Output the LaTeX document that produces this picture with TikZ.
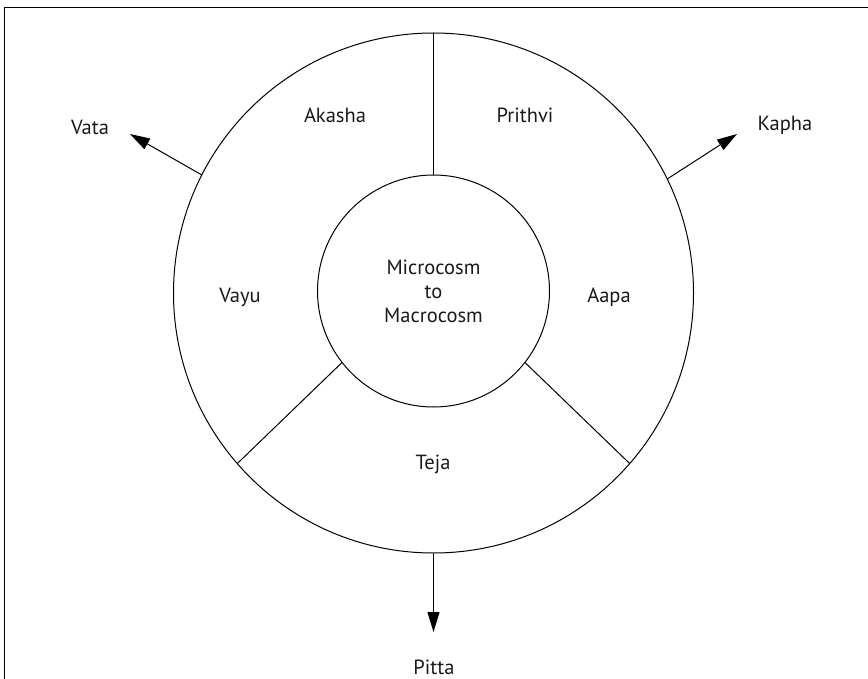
\documentclass[tikz,border=0pt]{standalone}
\usepackage{fontspec}
\setmainfont{PT Sans}
\usetikzlibrary{arrows.meta}
\begin{document}
\begin{tikzpicture}[x=1pt,y=-1pt,
  ring/.style={circle,draw,line width=1pt,inner sep=0pt,outer sep=0pt},
  label/.style={font=\fontsize{20.5}{24}\selectfont,inner sep=0pt,align=center,text=black!90},
  divider/.style={line width=1pt},
  flow/.style={line width=1pt,-{Triangle[length=20pt,width=12pt]}}]
  \useasboundingbox (0,0) rectangle (868,679);
  % frame (only its top and left sides fall inside the page)
  \draw[line width=1.5pt] (4.5,679) -- (4.5,7.5) -- (868,7.5);

  % rings
  \node[ring,minimum size=520pt] (outer) at (433.5,293) {};
  \node[ring,minimum size=232pt,label] (inner) at (433.5,291) {Microcosm\\to\\Macrocosm};

  % sector dividers
  \draw[divider] (inner.90) -- (outer.90);
  \draw[divider] (inner.-142) -- (outer.-139);
  \draw[divider] (inner.-38) -- (outer.-41);

  % element names
  \node[label] (akasha) at (335,115) {Akasha};
  \node[label] (prithvi) at (525,115) {Prithvi};
  \node[label] (vayu) at (240,297) {Vayu};
  \node[label] (aapa) at (609,297) {Aapa};
  \node[label] (teja) at (433,464) {Teja};

  % doshas
  \node[label] (vata) at (90,127) {Vata};
  \node[label] (kapha) at (785,125) {Kapha};
  \node[label] (pitta) at (434,667) {Pitta};

  \coordinate (vtip) at (130,134);
  \coordinate (ktip) at (737,134);
  \coordinate (ptip) at (433.5,632);
  \draw[flow] (outer.153.7) -- (vtip);
  \draw[flow] (outer.26.3) -- (ktip);
  \draw[flow] (outer.-90) -- (ptip);
\end{tikzpicture}
\end{document}
